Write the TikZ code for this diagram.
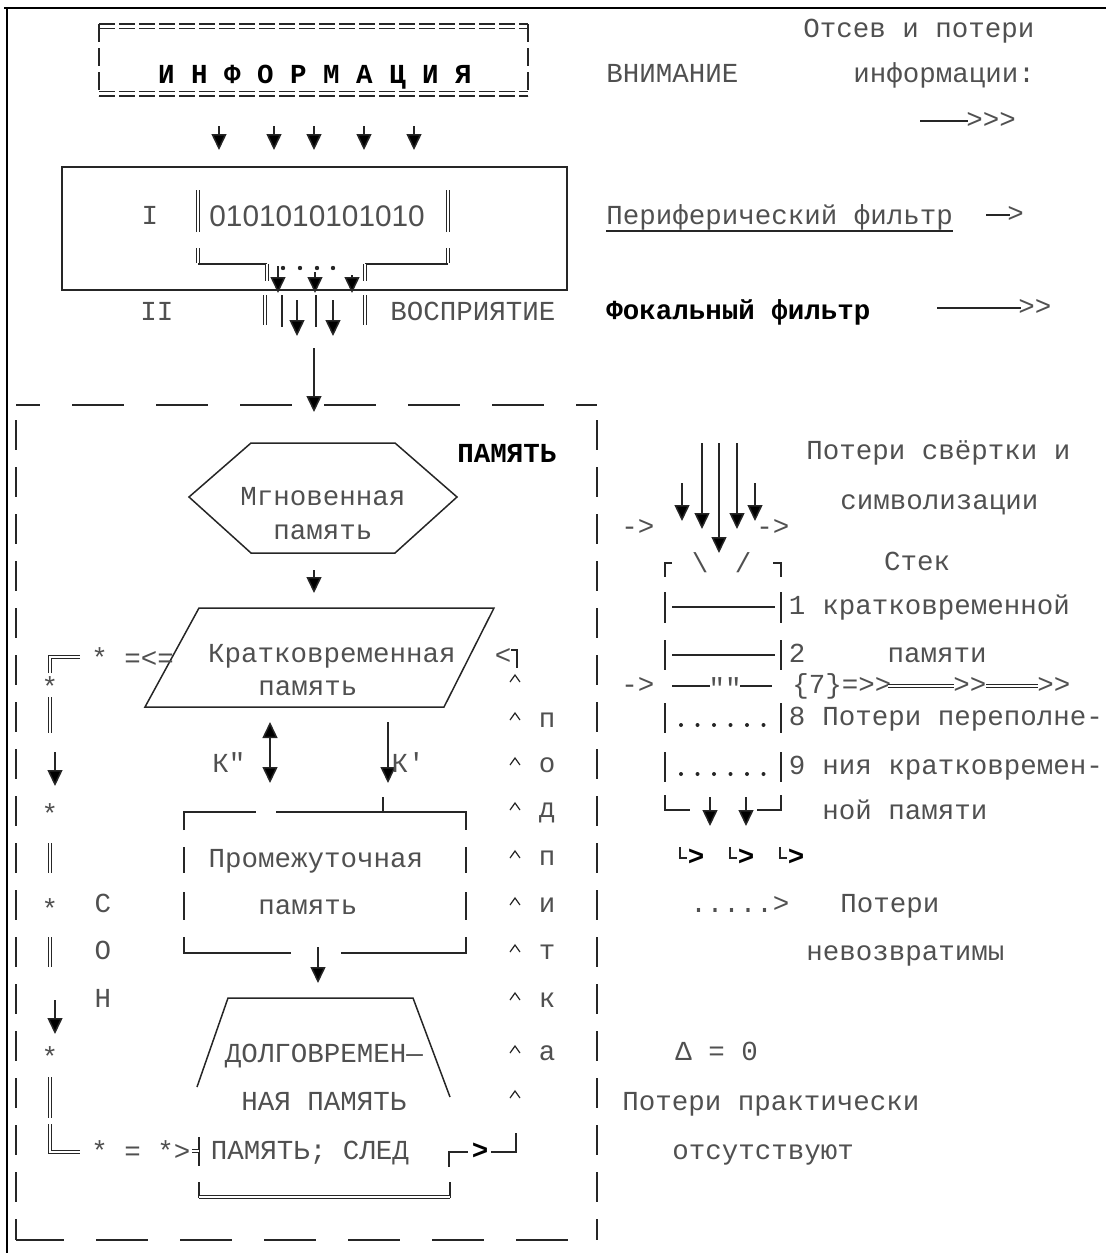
\documentclass[tikz,border=0pt]{standalone}
\usepackage{fontspec}
\setmonofont{Liberation Mono}
\newfontfamily\sansdig{Liberation Sans}
\usetikzlibrary{arrows.meta}
\definecolor{tgray}{HTML}{505050}
\definecolor{lgray}{HTML}{262626}
\begin{document}
\begin{tikzpicture}[x=0.5pt,y=-0.5pt,
  txt/.style={text=tgray, font=\ttfamily\fontsize{13.75}{16}\selectfont, inner sep=0pt, text height=7.5pt, text depth=0pt},
  btxt/.style={txt, text=black, font=\ttfamily\bfseries\fontsize{13.75}{16}\selectfont},
  ln/.style={draw=lgray, line width=0.75pt},
  thinln/.style={draw=lgray, line width=0.6pt},
  dbl/.style={draw=lgray, line width=0.5pt, double=white, double distance=1.2pt},
  tip/.tip={Triangle[width=7.5pt,length=8pt,fill=black]},
  arr/.style={ln, -tip},
  darr/.style={ln, tip-tip},
  hdash/.style={draw=lgray, line width=0.7pt, dash pattern=on 26pt off 16pt},
  vdash/.style={draw=lgray, line width=0.7pt, dash pattern=on 15pt off 8.5pt},
  idash/.style={draw=lgray, line width=0.7pt, dash pattern=on 8pt off 2pt},
]
\useasboundingbox (0,0) rectangle (1106,1253);
% outer frame
\draw[black, line width=1.3pt] (4,8) -- (1106,8);
\draw[black, line width=1.3pt] (7,7) -- (7,1253);

% INFORMATION box
\draw[idash] (99,24) -- (528,24) (99,28.5) -- (528,28.5) (99,91.5) -- (528,91.5) (99,96) -- (528,96);
\draw[thinln, dash pattern=on 9pt off 3pt] (99,24) -- (99,96) (528,24) -- (528,96);
\node[btxt] (info) at (315,76) {И Н Ф О Р М А Ц И Я};
\foreach \x in {219,274,314,364,414} {\draw[arr] (\x,126) -- (\x,150);}

% right top texts
\node[txt, anchor=west] (otsev) at (803,30) {Отсев и потери};
\node[txt, anchor=west] (vnim) at (606,75) {ВНИМАНИЕ};
\node[txt, anchor=west] (infm) at (853,75) {информации:};
\coordinate (l1a) at (920,121); \coordinate (l1b) at (968,121);
\draw[ln] (l1a) -- (l1b);
\node[txt, anchor=west] (g1) at (966,121) {>>>};

% filter box
\node[ln, draw, minimum width=252.5pt, minimum height=61.5pt, inner sep=0pt] (filter) at (314.5,228.5) {};
\node[txt] (r1) at (150,217) {I};
\draw[dbl] (198,190) -- (198,232);
\node[text=tgray, inner sep=0pt, font=\sansdig\fontsize{14.9}{16}\selectfont, anchor=west, text height=7.5pt, text depth=0pt] (bits) at (209,219) {0101010101010};
\draw[dbl] (448,190) -- (448,232);
% funnel
\draw[dbl] (198,248) -- (198,263);
\draw[ln] (198,264) -- (267,264);
\draw[dbl] (267,264) -- (267,281);
\draw[dbl] (448,248) -- (448,263);
\draw[ln] (448,264) -- (365,264);
\draw[dbl] (365,264) -- (365,281);
\foreach \x in {283,300,317,333} {\fill[lgray] (\x,268) circle (1.1pt);}
\draw[arr] (278,266) -- (278,293);
\draw[arr] (315,272) -- (315,293);
\draw[arr] (352,275) -- (352,293);

% row II
\node[txt] (r2) at (157,313) {II};
\draw[dbl] (265,295) -- (265,325);
\draw[thinln] (282,295) -- (282,327);
\draw[arr] (297,300) -- (297,336);
\draw[thinln] (316,295) -- (316,327);
\draw[arr] (333,300) -- (333,336);
\draw[dbl] (365,295) -- (365,325);
\node[txt, anchor=west] (vospr) at (390,313) {ВОСПРИЯТИЕ};

% filters on right
\node[txt, anchor=west] (perif) at (606,217) {Периферический фильтр};
\draw[thinln] (606,231) -- (953,231);
\draw[ln] (986,215) -- (1010,215);
\node[txt, anchor=west] (g2) at (1007,215) {>};
\node[btxt, anchor=west] (fokal) at (606,312) {Фокальный фильтр};
\draw[ln] (937,308) -- (1021,308);
\node[txt, anchor=west] (g3) at (1018,308) {>>};

% arrow into memory
\coordinate (inA) at (314,348); \coordinate (inB) at (314,412);
\draw[arr] (inA) -- (inB);

% memory dashed box
\draw[hdash, dash phase=14pt] (16,405) -- (597,405);
\draw[hdash, dash phase=2pt] (16,1240) -- (597,1240);
\draw[vdash, dash phase=16pt] (16,405) -- (16,1240);
\draw[vdash, dash phase=16pt] (597,405) -- (597,1240);
\node[btxt] (pam) at (507,455) {ПАМЯТЬ};

% hexagon
\draw[ln] (189,497) -- (251,443) -- (395,443) -- (457,497) -- (395,553) -- (251,553) -- cycle;
\node[txt] (hex1) at (323,498) {Мгновенная};
\node[txt] (hex2) at (323,532) {память};
\draw[arr] (314,570) -- (314,593);

% parallelogram
\draw[ln] (199,608) -- (494,608) -- (444,707) -- (145,707) -- cycle;
\node[txt] (par1) at (332,655) {Кратковременная};
\node[txt] (par2) at (308,688) {память};

% left loop column
\draw[dbl] (50,673) -- (50,657) -- (80,657);
\node[txt, anchor=west] (lt) at (91,660) {* =<=};
\node[txt] (s1) at (50,689) {*};
\draw[dbl] (50,697) -- (50,733);
\draw[arr] (55,752) -- (55,786);
\node[txt] (s2) at (50,816) {*};
\draw[dbl] (50,843) -- (50,873);
\node[txt] (s3) at (50,911) {*};
\node[txt] (cC) at (103,905) {С};
\draw[dbl] (50,937) -- (50,967);
\node[txt] (cO) at (103,952) {О};
\node[txt] (cH) at (103,1000) {Н};
\draw[arr] (55,1000) -- (55,1034);
\node[txt] (s4) at (50,1059) {*};
\draw[dbl] (50,1077) -- (50,1118);
\draw[dbl] (50,1124) -- (50,1152) -- (80,1152);
\node[txt, anchor=west] (lb) at (91,1153) {* = *>};
\draw[ln] (199,1137) -- (199,1166);
\draw[dbl] (192,1151) -- (199,1151);

% right return column
\node[txt] (lt2) at (503,657) {<};
\draw[ln] (511,650) -- (517,650) -- (517,668);
\foreach \y in {682,720,765,810,858,905,952,1000,1053,1098} {\draw[thinln] (510,\y) -- (515,\y-7) -- (520,\y);}
\node[txt] at (547,720) {п};
\node[txt] at (547,765) {о};
\node[txt] at (547,810) {д};
\node[txt] at (547,858) {п};
\node[txt] at (547,905) {и};
\node[txt] at (547,952) {т};
\node[txt] at (547,1000) {к};
\node[txt] at (547,1053) {а};
\draw[ln] (449,1167) -- (449,1152) -- (468,1152);
\node[btxt] (rb) at (480,1152) {>};
\draw[ln] (491,1152) -- (516,1152) -- (516,1133);

% K arrows
\node[txt] (k2) at (229,765) {К"};
\draw[darr] (270,722) -- (270,783);
\draw[arr] (388,722) -- (388,783);
\node[txt] (k1) at (408,765) {К'};

% intermediate memory bracket
\draw[ln] (184,830) -- (184,812) -- (256,812);
\draw[ln] (276,812) -- (466,812) -- (466,830);
\draw[ln] (383,797) -- (383,812);
\draw[ln] (184,847) -- (184,873) (466,847) -- (466,873) (184,892) -- (184,920) (466,892) -- (466,920);
\draw[ln] (184,937) -- (184,953) -- (291,953);
\draw[ln] (341,953) -- (466,953) -- (466,937);
\node[txt] (pr1) at (316,860) {Промежуточная};
\node[txt] (pr2) at (308,907) {память};
\draw[arr] (318,947) -- (318,983);

% long-term memory
\draw[ln] (197,1087) -- (228,998) -- (413,998) -- (450,1097);
\node[txt] (lt1) at (324,1055) {ДОЛГОВРЕМЕН—};
\node[txt] (lt3) at (324,1103) {НАЯ ПАМЯТЬ};
\node[txt] (sled) at (310,1152) {ПАМЯТЬ; СЛЕД};
\draw[ln] (199,1182) -- (199,1198) (450,1182) -- (450,1198);
\draw[dbl] (199,1197) -- (450,1197);

% right stack
\node[txt, anchor=west] (ps1) at (806,452) {Потери свёртки и};
\node[txt, anchor=west] (ps2) at (840,502) {символизации};
\draw[arr] (702,443) -- (702,529);
\draw[arr] (719,443) -- (719,553);
\draw[arr] (737,443) -- (737,529);
\draw[arr] (682,483) -- (682,521);
\draw[arr] (755,483) -- (755,521);
\node[txt, anchor=west] at (621,528) {->};
\node[txt, anchor=west] at (756,528) {->};
\draw[ln] (672,563) -- (665,563) -- (665,577);
\node[txt] at (700,565) {\textbackslash};
\node[txt] at (743,565) {/};
\draw[ln] (773,563) -- (781,563) -- (781,577);
\node[txt] (stek) at (917,563) {Стек};
\draw[ln] (665,592) -- (665,623) (781,592) -- (781,623);
\draw[ln] (672,607) -- (775,607);
\node[txt] at (797,607) {1};
\node[txt, anchor=west] at (822,607) {кратковременной};
\draw[ln] (665,640) -- (665,670) (781,640) -- (781,670);
\draw[ln] (672,655) -- (775,655);
\node[txt] at (797,655) {2};
\node[txt] at (937,655) {памяти};
\node[txt, anchor=west] at (621,686) {->};
\draw[ln] (672,686) -- (710,686);
\node[txt] at (725,690) {""};
\draw[ln] (740,686) -- (772,686);
\node[txt, anchor=west] at (792,686) {\{7\}=>>};
\draw[dbl] (888,686) -- (954,686);
\node[txt, anchor=west] at (953,686) {>>};
\draw[dbl] (986,686) -- (1038,686);
\node[txt, anchor=west] at (1037,686) {>>};
\draw[ln] (665,703) -- (665,733) (781,703) -- (781,733);
\foreach \i in {0,...,5} {\fill[lgray] (681+\i*16.5,725) circle (1pt);}
\node[txt] at (797,718) {8};
\node[txt, anchor=west] at (822,718) {Потери переполне-};
\draw[ln] (665,752) -- (665,782) (781,752) -- (781,782);
\foreach \i in {0,...,5} {\fill[lgray] (681+\i*16.5,774) circle (1pt);}
\node[txt] at (797,767) {9};
\node[txt, anchor=west] at (822,767) {ния кратковремен-};
\draw[ln] (665,795) -- (665,810) -- (690,810);
\draw[arr] (710,797) -- (710,826);
\draw[arr] (746,797) -- (746,826);
\draw[ln] (757,810) -- (781,810) -- (781,795);
\node[txt, anchor=west] at (822,812) {ной памяти};
\foreach \x in {680,730,780} {\draw[thinln] (\x,847) -- (\x,858) -- (\x+7,858); \node[btxt] at (\x+16,858) {>};}
\node[txt, anchor=west] at (690,905) {.....>};
\node[txt, anchor=west] at (840,905) {Потери};
\node[txt, anchor=west] at (806,953) {невозвратимы};
\node[txt, anchor=west] at (675,1053) {Δ = 0};
\node[txt, anchor=west] at (622,1103) {Потери практически};
\node[txt, anchor=west] at (672,1152) {отсутствуют};
\end{tikzpicture}
\end{document}
